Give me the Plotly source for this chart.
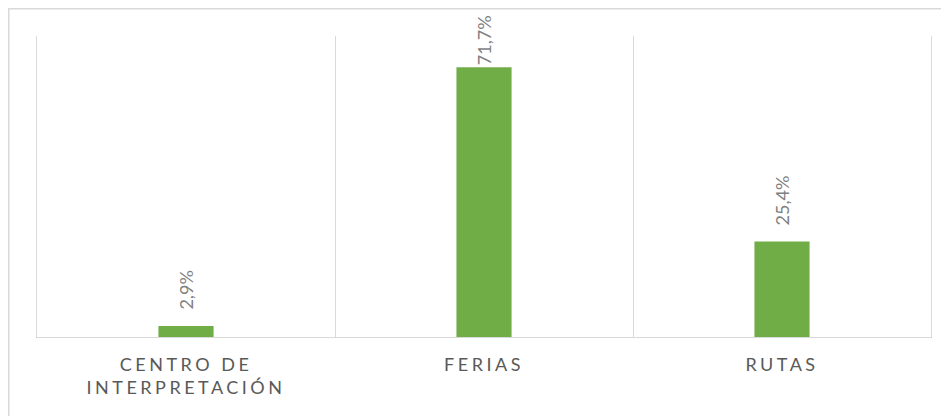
import plotly.graph_objects as go

# ---- data ----
categories = ["Centro de interpretación", "Ferias", "Rutas"]
tick_labels = ["CENTRO DE<br>INTERPRETACIÓN", "FERIAS", "RUTAS"]
values = [2.9, 71.7, 25.4]
value_labels = ["2,9%", "71,7%", "25,4%"]

# ---- style ----
BAR_COLOR = "#70AD47"
GRID = "#D9D9D9"
label_shift = [14, 0, 14]  # px gap between bar end and rotated label

W, H = 949, 416
L, T, R, B = 29, 28, 26, 86.5  # page is offset by 8px body margin
PW, PH = W - L - R, H - T - B


def spaced(label, px=3.5):
    return "<br>".join(
        f'<span style="letter-spacing:{px}px">{line}</span>' for line in label.split("<br>")
    )


fig = go.Figure()
fig.add_trace(
    go.Bar(
        x=categories,
        y=values,
        width=0.185,
        marker=dict(color=BAR_COLOR, line=dict(width=0)),
        hoverinfo="skip",
    )
)

for cat, v, txt, sh in zip(categories, values, value_labels, label_shift):
    fig.add_annotation(
        x=cat, y=v, xref="x", yref="y",
        text=txt, textangle=-90, showarrow=False,
        xanchor="center", yanchor="bottom", yshift=sh,
        font=dict(family="Lato", size=18, color="#7F7F7F"),
    )

# outer chart border (left & top visible, right/bottom beyond the frame)
fig.add_shape(
    type="rect", xref="paper", yref="paper",
    x0=(0.75 - L) / PW, x1=(W + 20 - L) / PW,
    y0=-(H + 20 - T - PH) / PH, y1=(T + PH - 0.75) / PH,
    line=dict(color=GRID, width=1.5), fillcolor="rgba(0,0,0,0)", layer="below",
)

fig.update_layout(
    width=W, height=H,
    margin=dict(l=L, r=R, t=T, b=B, pad=0),
    paper_bgcolor="white", plot_bgcolor="white",
    showlegend=False,
    font=dict(family="Lato", size=18, color="#595959"),
)
fig.update_xaxes(
    type="category",
    tickvals=categories,
    ticktext=[spaced(t) for t in tick_labels],
    tickson="boundaries",
    ticks="",
    ticklabelstandoff=11,
    showgrid=True, gridcolor=GRID, gridwidth=1,
    showline=True, linecolor=GRID, linewidth=1,
    tickfont=dict(family="Lato", size=18, color="#595959"),
    fixedrange=True,
)
fig.update_yaxes(
    range=[0, 80],
    showticklabels=False, showgrid=False, zeroline=False,
    showline=True, mirror=True, linecolor=GRID, linewidth=1,
    ticks="",
    fixedrange=True,
)

fig.write_html("out.html")
